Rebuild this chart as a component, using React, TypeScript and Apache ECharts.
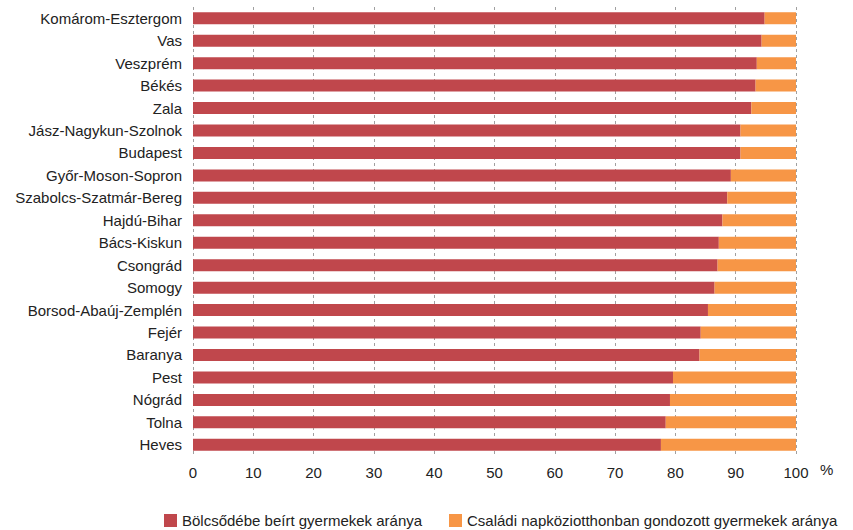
import React, { useEffect, useRef } from "react";
import * as echarts from "echarts";

const categories = [
  "Komárom-Esztergom", "Vas", "Veszprém", "Békés", "Zala",
  "Jász-Nagykun-Szolnok", "Budapest", "Győr-Moson-Sopron", "Szabolcs-Szatmár-Bereg", "Hajdú-Bihar",
  "Bács-Kiskun", "Csongrád", "Somogy", "Borsod-Abaúj-Zemplén", "Fejér",
  "Baranya", "Pest", "Nógrád", "Tolna", "Heves",
];
const bolcsode = [94.8, 94.3, 93.5, 93.3, 92.6, 90.8, 90.8, 89.2, 88.6, 87.8, 87.2, 87.0, 86.5, 85.4, 84.2, 84.0, 79.6, 79.1, 78.4, 77.6];
const csaladi = [5.2, 5.7, 6.5, 6.7, 7.4, 9.2, 9.2, 10.8, 11.4, 12.2, 12.8, 13.0, 13.5, 14.6, 15.8, 16.0, 20.4, 20.9, 21.6, 22.4];
const seriesNames = ["Bölcsődébe beírt gyermekek aránya", "Családi napköziotthonban gondozott gyermekek aránya"];
const xTicks = { min: 0, max: 100, interval: 10 };

const FONT = "'Liberation Sans', Arial, sans-serif";

export default function App() {
  const ref = useRef<HTMLDivElement>(null);
  useEffect(() => {
    if (!ref.current) return;
    const chart = echarts.init(ref.current, null, { renderer: "svg" });
    const legendBase = {
      top: 513,
      padding: 0,
      itemWidth: 13,
      itemHeight: 13,
      icon: "rect",
      textStyle: { color: "#222", fontSize: 15, fontFamily: FONT },
    };
    chart.setOption({
      animation: false,
      textStyle: { fontFamily: FONT },
      grid: { left: 193, right: 57, top: 7, bottom: 74, containLabel: false },
      xAxis: {
        type: "value",
        min: xTicks.min,
        max: xTicks.max,
        interval: xTicks.interval,
        axisLine: { show: false },
        axisTick: { show: false },
        axisLabel: { color: "#222", fontSize: 15, margin: 9, fontFamily: FONT },
        splitLine: { show: true, lineStyle: { color: "#a0a0a0", type: [3, 3], width: 1 } },
      },
      yAxis: {
        type: "category",
        data: categories,
        inverse: true,
        axisLine: { show: false },
        axisTick: { show: false },
        axisLabel: { color: "#222", fontSize: 15, margin: 11, fontFamily: FONT },
      },
      legend: [
        { ...legendBase, left: 164, data: [seriesNames[0]] },
        { ...legendBase, left: 449, data: [seriesNames[1]] },
      ],
      graphic: [
        { type: "text", left: 820, top: 462, style: { text: "%", fontSize: 15, fill: "#222", fontFamily: FONT } },
      ],
      series: [
        {
          name: seriesNames[0], type: "bar", stack: "a", data: bolcsode, barWidth: 12,
          itemStyle: { color: "#C0474C" },
        },
        {
          name: seriesNames[1], type: "bar", stack: "a", data: csaladi, barWidth: 12,
          itemStyle: { color: "#F79646" },
        },
      ],
    });
    return () => chart.dispose();
  }, []);
  return <div ref={ref} style={{ position: "absolute", left: 0, top: 0, width: 853, height: 530 }} />;
}
